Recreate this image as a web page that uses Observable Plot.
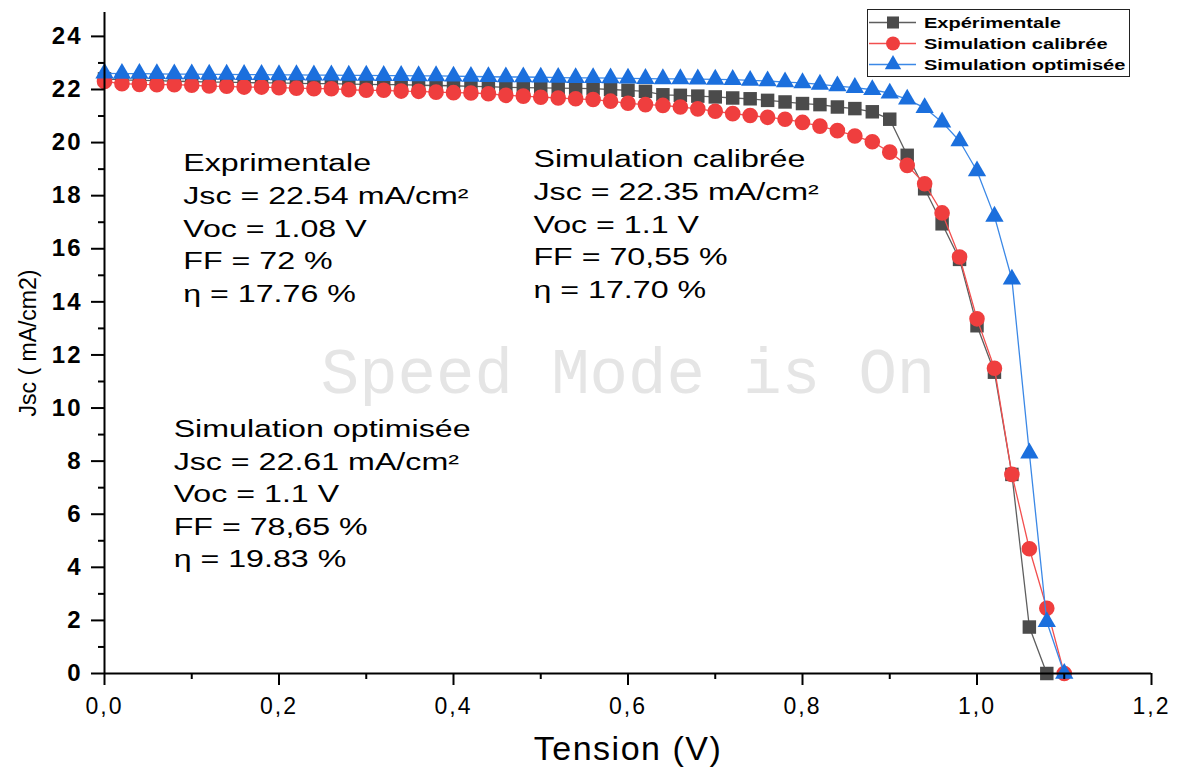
<!DOCTYPE html>
<html><head><meta charset="utf-8">
<script src="https://cdn.jsdelivr.net/npm/d3@7"></script>
<script src="https://cdn.jsdelivr.net/npm/@observablehq/plot@0.6"></script>
<style>
body{margin:0;background:#fff;}
#wrap{position:relative;width:1178px;height:767px;}
#legend{position:absolute;left:867px;top:9px;width:263px;height:68px;border:1.5px solid #222;background:#fff;box-sizing:border-box;font-family:"Liberation Sans",Arial,sans-serif;font-weight:bold;font-size:14.3px;color:#000;}
.row{position:absolute;left:0;height:21px;display:flex;align-items:center;white-space:nowrap;}
.row svg{display:block;margin-right:8px;}
.row span{display:inline-block;transform:scaleX(1.4);transform-origin:0 50%;}
</style></head><body><div id="wrap"></div>
<script>
const tension = [0, 0.02, 0.04, 0.06, 0.08, 0.1, 0.12, 0.14, 0.16, 0.18, 0.2, 0.22, 0.24, 0.26, 0.28, 0.3, 0.32, 0.34, 0.36, 0.38, 0.4, 0.42, 0.44,
  0.46, 0.48, 0.5, 0.52, 0.54, 0.56, 0.58, 0.6, 0.62, 0.64, 0.66, 0.68, 0.7, 0.72, 0.74, 0.76, 0.78, 0.8, 0.82, 0.84, 0.86, 0.88,
  0.9, 0.92, 0.94, 0.96, 0.98, 1.0, 1.02, 1.04, 1.06, 1.08, 1.1];
const experimental = [22.40, 22.36, 22.34, 22.33, 22.31, 22.30, 22.28, 22.28, 22.26, 22.25, 22.25, 22.23, 22.22, 22.22, 22.20, 22.19, 22.18, 22.18, 22.16, 22.15, 22.14, 22.12, 22.11,
  22.08, 22.07, 22.06, 22.05, 22.04, 22.03, 22.00, 21.97, 21.93, 21.80, 21.78, 21.75, 21.72, 21.68, 21.65, 21.59, 21.53, 21.47, 21.43, 21.34, 21.28, 21.16,
  20.88, 19.52, 18.26, 16.94, 15.60, 13.10, 11.35, 7.50, 1.75, 0];
const calibrated = [22.30, 22.22, 22.19, 22.18, 22.18, 22.16, 22.13, 22.12, 22.09, 22.09, 22.07, 22.05, 22.03, 22.03, 21.99, 21.97, 21.97, 21.94, 21.93, 21.90, 21.88, 21.87, 21.84,
  21.78, 21.75, 21.71, 21.68, 21.65, 21.62, 21.56, 21.48, 21.43, 21.40, 21.34, 21.27, 21.18, 21.09, 21.02, 20.95, 20.88, 20.76, 20.62, 20.45, 20.25, 20.03,
  19.64, 19.14, 18.45, 17.35, 15.69, 13.36, 11.50, 7.50, 4.70, 2.46, 0];
const optimised = [22.61, 22.60, 22.60, 22.59, 22.58, 22.58, 22.57, 22.57, 22.56, 22.56, 22.55, 22.55, 22.54, 22.54, 22.53, 22.53, 22.52, 22.52, 22.51, 22.51, 22.50, 22.49, 22.48,
  22.47, 22.47, 22.46, 22.45, 22.44, 22.44, 22.43, 22.42, 22.41, 22.40, 22.40, 22.39, 22.38, 22.37, 22.34, 22.32, 22.28, 22.25, 22.19, 22.13, 22.07, 21.99,
  21.86, 21.63, 21.31, 20.77, 20.06, 18.93, 17.22, 14.85, 8.30, 1.95, 0];

const seriesNames = ["Expérimentale", "Simulation calibrée", "Simulation optimisée"];
const seriesFill = ["#4b4b4b", "#ef3e3e", "#1b6fdd"];
const seriesLine = ["#5e5e5e", "#f24f4f", "#3b88e6"];
const seriesSymbol = ["square", "circle", "triangle"];
const seriesR = [7.6, 7.8, 6.8];

const yTicks = [0, 2, 4, 6, 8, 10, 12, 14, 16, 18, 20, 22, 24];
const yMinor = [1, 3, 5, 7, 9, 11, 13, 15, 17, 19, 21, 23];
const xTicks = [0, 0.2, 0.4, 0.6, 0.8, 1.0, 1.2];
const xMinor = [0.1, 0.3, 0.5, 0.7, 0.9, 1.1];

const xLabel = "Tension (V)";
const yLabel = "Jsc ( mA/cm2)";
const watermark = "Speed Mode is On";
const expText = ["Exprimentale", "Jsc = 22.54 mA/cm²", "Voc = 1.08 V", "FF = 72 %", "η = 17.76 %"];
const calText = ["Simulation calibrée", "Jsc = 22.35 mA/cm²", "Voc = 1.1 V", "FF = 70,55 %", "η = 17.70 %"];
const optText = ["Simulation optimisée", "Jsc = 22.61 mA/cm²", "Voc = 1.1 V", "FF = 78,65 %", "η = 19.83 %"];

const seriesValues = [experimental, calibrated, optimised];
const seriesData = seriesValues.map((vals, s) => vals.map((v, i) => ({x: tension[i], y: v, s})));

const dataMarks = [];
seriesData.forEach((d, s) => {
  dataMarks.push(Plot.line(d, {x: "x", y: "y", stroke: seriesLine[s], strokeWidth: 1.3}));
  dataMarks.push(Plot.dot(d, {x: "x", y: "y", symbol: () => seriesSymbol[s], r: seriesR[s], fill: seriesFill[s], stroke: "none"}));
});

const annoFont = "Liberation Sans";
const annoAnchors = [0.09, 0.4914, 0.079];
const plot = Plot.plot({
  width: 1178, height: 767,
  marginLeft: 104, marginRight: 27, marginTop: 12, marginBottom: 94,
  x: {domain: [0, 1.2]},
  y: {domain: [0, 24.9]},
  symbol: {type: "identity"},
  style: {fontFamily: "'Liberation Sans', Arial, sans-serif", background: "white", color: "#000", overflow: "visible"},
  marks: [
    Plot.text([watermark], {x: 0.6, y: 11.34, fontFamily: "Liberation Mono", fontSize: 64, fill: "#e5e5e5", textAnchor: "middle", lineAnchor: "middle"}),
    Plot.text([expText.join("\n")], {x: annoAnchors[0], y: 19.8, textAnchor: "start", lineAnchor: "top", lineHeight: 1.424, fontSize: 23, fontFamily: annoFont, fill: "#000"}),
    Plot.text([calText.join("\n")], {x: annoAnchors[1], y: 19.95, textAnchor: "start", lineAnchor: "top", lineHeight: 1.424, fontSize: 23, fontFamily: annoFont, fill: "#000"}),
    Plot.text([optText.join("\n")], {x: annoAnchors[2], y: 9.77, textAnchor: "start", lineAnchor: "top", lineHeight: 1.413, fontSize: 23, fontFamily: annoFont, fill: "#000"}),
    ...dataMarks,
    Plot.axisY(yTicks, {tickSize: 13, tickPadding: 9, strokeWidth: 2, fontSize: 24, fontWeight: "bold", tickFormat: d => String(d), label: null}),
    Plot.axisY(yMinor, {tickSize: 6, strokeWidth: 2, tickFormat: () => "", label: null}),
    Plot.axisX(xTicks, {tickSize: 12, tickPadding: 12, strokeWidth: 2, fontSize: 23, tickFormat: d => d.toFixed(1).replace(".", ","), label: null}),
    Plot.axisX(xMinor, {tickSize: 6, strokeWidth: 2, tickFormat: () => "", label: null}),
    Plot.ruleX([0], {strokeWidth: 2, stroke: "#000"}),
    Plot.ruleY([0], {strokeWidth: 2, stroke: "#000"}),
    Plot.text([xLabel], {frameAnchor: "bottom", dy: 76, fontSize: 34, textAnchor: "middle", lineAnchor: "middle", fill: "#000"}),
    Plot.text([yLabel], {frameAnchor: "left", dx: -76, rotate: -90, fontSize: 23, textAnchor: "middle", lineAnchor: "middle", fill: "#000"})
  ]
});

const wrap = document.getElementById("wrap");
wrap.appendChild(plot);
const svgNode = plot.tagName.toLowerCase() === "svg" ? plot : plot.querySelector("svg");
const svg = d3.select(svgNode);
svg.selectAll('g[aria-label="y-axis tick label"]').attr("letter-spacing", 2);
svg.selectAll('g[aria-label="x-axis tick label"]').attr("letter-spacing", 2);
svg.selectAll("text").filter(function(){ return this.textContent === xLabel; }).attr("letter-spacing", 1.5);
const xs = plot.scale("x");
svg.selectAll(`g[font-family="${annoFont}"]`).each(function(_, i) {
  const x0 = xs.apply(annoAnchors[i]);
  const prev = this.getAttribute("transform") || "";
  this.setAttribute("transform", `translate(${x0},0) scale(1.4,1) translate(${-x0},0) ${prev}`);
});

// legend
const legend = document.createElement("div");
legend.id = "legend";
const rowTops = [2, 23, 44];
seriesNames.forEach((name, i) => {
  const row = document.createElement("div");
  row.className = "row";
  row.style.top = rowTops[i] + "px";
  const s = d3.create("svg").attr("width", 48).attr("height", 21);
  s.append("line").attr("x1", 1).attr("x2", 48).attr("y1", 10.5).attr("y2", 10.5).attr("stroke", seriesLine[i]).attr("stroke-width", 1.3);
  const sym = {square: d3.symbolSquare, circle: d3.symbolCircle, triangle: d3.symbolTriangle}[seriesSymbol[i]];
  s.append("path").attr("transform", "translate(25,10.5)").attr("d", d3.symbol(sym, Math.PI * seriesR[i] * seriesR[i] * 0.8)()).attr("fill", seriesFill[i]);
  row.appendChild(s.node());
  const t = document.createElement("span");
  t.textContent = name;
  row.appendChild(t);
  legend.appendChild(row);
});
wrap.appendChild(legend);
</script></body></html>
